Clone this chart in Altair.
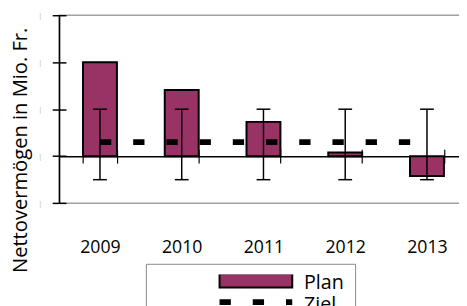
import altair as alt
import pandas as pd

# ---- data ----
years = ["2009", "2010", "2011", "2012", "2013"]
plan = [2.0, 1.41, 0.73, 0.08, -0.42]
err_low = [-0.5, -0.5, -0.5, -0.5, -0.5]
err_high = [1.0, 1.0, 1.0, 1.0, 1.0]
ziel = [0.3, 0.3, 0.3, 0.3, 0.3]
y_ticks = [-1, 0, 1, 2, 3]
series = ["Plan", "Ziel"]
y_title = "Nettovermögen in Mio. Fr."

df = pd.DataFrame({"Jahr": years, "Plan": plan, "lo": err_low, "hi": err_high, "Ziel": ziel})
leg = pd.DataFrame({"Reihe": series})

W, H = 416, 191.3
PLUM = "#993366"
FONT = "Open Sans"

xs = alt.Scale(type="band", domain=years, paddingInner=0.585, paddingOuter=0.2925)
ys = alt.Scale(domain=[-1, 3], nice=False, zero=False)

x_main = alt.Axis(orient="bottom", offset=-47.8, title=None, labelAngle=0, labelFont=FONT,
                  labelFontSize=18, labelColor="black", labelPadding=76.5, tickBand="extent",
                  tickSize=7, tickColor="black", tickWidth=1.2, domainColor="black",
                  domainWidth=1.5, grid=False)
x_inner = alt.Axis(orient="top", offset=-143.5, title=None, labels=False, domain=False,
                   tickBand="extent", tickSize=7, tickColor="black", tickWidth=1.2, grid=False)
y_main = alt.Axis(orient="left", values=y_ticks, title=y_title, titleFont=FONT,
                  titleFontSize=20.5, titleFontWeight="normal", titleColor="black",
                  titleX=-33, titleY=137, titleBaseline="alphabetic", titleAlign="center",
                  titleAngle=270, domainColor="black", domainWidth=1.5, tickColor="black",
                  tickWidth=1.5, tickSize=7, labelExpr="'|'", labelFontSize=8,
                  labelColor="#c8c8c8", labelPadding=11.5, grid=False)
y_inner = alt.Axis(orient="right", offset=-W, values=y_ticks, title=None, labels=False,
                   domain=False, tickSize=7, tickColor="black", tickWidth=1.5, grid=False)

base = alt.Chart(df)

bars = base.mark_bar(fill=PLUM, stroke="black", strokeWidth=2).encode(
    x=alt.X("Jahr:N", scale=xs, axis=x_main),
    y=alt.Y("Plan:Q", scale=ys, axis=y_main),
)

line = base.mark_line(color="black", strokeWidth=6, strokeDash=[11.5, 22.3], strokeCap="butt").encode(
    x=alt.X("Jahr:N", scale=xs, axis=x_inner),
    y=alt.Y("Ziel:Q", scale=ys, axis=y_inner),
)

rule = base.mark_rule(color="black", strokeWidth=1.5).encode(
    x=alt.X("Jahr:N", scale=xs, axis=None),
    y=alt.Y("lo:Q", scale=ys, axis=None),
    y2="hi:Q",
)
cap_lo = base.mark_tick(color="black", thickness=1.5, size=14, opacity=1).encode(
    x=alt.X("Jahr:N", scale=xs, axis=None),
    y=alt.Y("lo:Q", scale=ys, axis=None),
)
cap_hi = base.mark_tick(color="black", thickness=1.5, size=14, opacity=1).encode(
    x=alt.X("Jahr:N", scale=xs, axis=None),
    y=alt.Y("hi:Q", scale=ys, axis=None),
)

L = alt.Legend(title=None, orient="none", legendX=88.3, legendY=253, strokeColor="#888888",
               fillColor="white", padding=11, symbolSize=5476, clipHeight=18, symbolOffset=61,
               labelOffset=9, labelFont=FONT, labelFontSize=20, labelColor="black",
               symbolOpacity=1, symbolStrokeColor="black", symbolFillColor="transparent",
               rowPadding=2, labelExpr="pad(datum.label, 13, '\u00a0')")

legend_pts = alt.Chart(leg).mark_point(opacity=0, filled=True).encode(
    fill=alt.Fill("Reihe:N", scale=alt.Scale(domain=series, range=[PLUM, "transparent"]), legend=L),
    shape=alt.Shape("Reihe:N", scale=alt.Scale(domain=series,
                    range=["M-1,-0.27H1V0.11H-1Z", "M-1,-0.08H1"]), legend=L),
    strokeDash=alt.StrokeDash("Reihe:N", scale=alt.Scale(domain=series,
                              range=[[1, 0], [11.5, 22.3]]), legend=L),
    strokeWidth=alt.StrokeWidth("Reihe:N", scale=alt.Scale(domain=series, range=[2, 6]), legend=L),
)

chart = alt.layer(bars, line, rule, cap_lo, cap_hi, legend_pts).resolve_axis(
    x="independent", y="independent"
).properties(
    width=W, height=H,
    autosize=alt.AutoSizeParams(type="none"),
    padding={"left": 52, "top": 4.7, "right": -9, "bottom": 102},
    background="white",
).configure_view(stroke="#a0a0a0", strokeWidth=1.5)

chart.save("out.html", embed_options={"renderer": "svg", "actions": False})
